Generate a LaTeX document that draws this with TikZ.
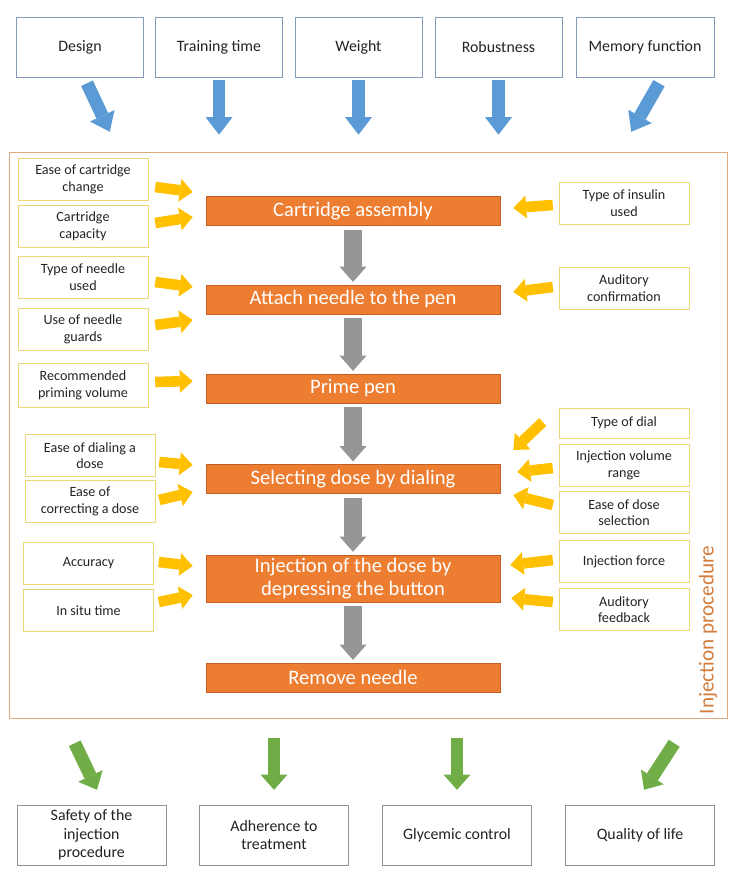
\documentclass[tikz,border=0pt]{standalone}
\usepackage{fontspec}
\setmainfont{Carlito}
\usetikzlibrary{arrows.meta}

\definecolor{topline}{RGB}{130,155,185}
\definecolor{endline}{RGB}{140,150,140}
\definecolor{factorline}{RGB}{235,215,120}
\definecolor{frameline}{RGB}{225,170,130}
\definecolor{steporange}{RGB}{237,125,49}
\definecolor{stepline}{RGB}{195,95,35}
\definecolor{proctext}{RGB}{210,125,60}
\definecolor{boxtext}{RGB}{35,35,35}
\definecolor{pblue}{RGB}{91,155,213}
\definecolor{pyellow}{RGB}{255,192,0}
\definecolor{pgray}{RGB}{150,150,150}
\definecolor{pgreen}{RGB}{112,173,71}

\begin{document}
\begin{tikzpicture}[x=0.85pt, y=-0.85pt,
  topbox/.style={draw=topline, text=boxtext, minimum width=108pt, minimum height=51pt,
    font=\fontsize{13.5}{16}\selectfont, align=center, inner sep=1pt},
  endbox/.style={draw=endline, text=boxtext, minimum width=126.5pt, minimum height=51pt,
    font=\fontsize{13.5}{15.7}\selectfont, align=center, inner sep=1pt},
  factor/.style={draw=factorline, text=boxtext, minimum width=110.5pt, minimum height=35.7pt,
    font=\fontsize{12}{14.2}\selectfont, align=center, inner sep=1pt},
  stepbox/.style={draw=stepline, fill=steporange, text=white, minimum width=250pt,
    minimum height=24.5pt, font=\fontsize{17.5}{20}\selectfont, align=center, inner sep=1pt},
  bluearrow/.style={draw=pblue, line width=11pt, -{Triangle[width=23pt,length=15pt,line width=0pt]}},
  yarrow/.style={draw=pyellow, line width=9pt, -{Triangle[width=19.5pt,length=11pt,line width=0pt]}},
  grayarrow/.style={draw=pgray, line width=15pt, shorten <=3.4pt, shorten >=2.5pt,
    -{Triangle[width=23pt,length=13pt,line width=0pt]}},
  greenarrow/.style={draw=pgreen, line width=11pt, -{Triangle[width=23pt,length=13pt,line width=0pt]}}]

  \useasboundingbox (0,0) rectangle (734,879);

  % factors on top
  \node[topbox] (design) at (80,47) {Design};
  \node[topbox] (train) at (219,47) {Training time};
  \node[topbox] (weight) at (358.5,47) {Weight};
  \node[topbox] (robust) at (498.5,47) {Robustness};
  \node[topbox, minimum width=117.3pt] (memory) at (645,47) {Memory function};

  % injection procedure frame
  \node[draw=frameline, minimum width=610.3pt, minimum height=481.1pt] (proc) at (368,435) {};
  \node[rotate=90, text=proctext, font=\fontsize{18}{20}\selectfont] (proclabel) at (708,630) {Injection procedure};

  % steps
  \node[stepbox] (cart) at (353,211) {Cartridge assembly};
  \node[stepbox] (attach) at (353,299.5) {Attach needle to the pen};
  \node[stepbox] (prime) at (353,388.5) {Prime pen};
  \node[stepbox] (select) at (353,479) {Selecting dose by dialing};
  \node[stepbox, minimum height=40pt] (inject) at (353,578.5) {Injection of the dose by\\depressing the button};
  \node[stepbox] (remove) at (353,677.5) {Remove needle};

  \draw[grayarrow] (cart) -- (attach);
  \draw[grayarrow] (attach) -- (prime);
  \draw[grayarrow] (prime) -- (select);
  \draw[grayarrow] (select) -- (inject);
  \draw[grayarrow] (inject) -- (remove);

  % left factors
  \node[factor] (ecc) at (83,179) {Ease of cartridge\\change};
  \node[factor] (ccap) at (83,226) {Cartridge\\capacity};
  \node[factor] (tneedle) at (83,277.5) {Type of needle\\used};
  \node[factor] (guards) at (83,329.5) {Use of needle\\guards};
  \node[factor, minimum height=37.4pt] (primevol) at (83,385) {Recommended\\priming volume};
  \node[factor] (dialing) at (90,455.5) {Ease of dialing a\\dose};
  \node[factor] (correct) at (90,501.5) {Ease of\\correcting a dose};
  \node[factor] (accuracy) at (88.5,563.5) {Accuracy};
  \node[factor] (insitu) at (88.5,610.5) {In situ time};

  % right factors
  \node[factor] (insulin) at (624,203) {Type of insulin\\used};
  \node[factor] (audconf) at (624,288) {Auditory\\confirmation};
  \node[factor, minimum height=25.5pt] (dial) at (624,423) {Type of dial};
  \node[factor] (volrange) at (624,465) {Injection volume\\range};
  \node[factor] (dosesel) at (624,512.5) {Ease of dose\\selection};
  \node[factor] (force) at (624,561.5) {Injection force};
  \node[factor] (audfeed) at (624,609.5) {Auditory\\feedback};

  % yellow arrows, left
  \draw[yarrow] ([shift={(7,8)}]ecc.east) -- ([shift={(-13,-19)}]cart.west);
  \draw[yarrow] ([shift={(7,-3)}]ccap.east) -- ([shift={(-13,6)}]cart.west);
  \draw[yarrow] ([shift={(7,4.5)}]tneedle.east) -- ([shift={(-13,-12.5)}]attach.west);
  \draw[yarrow] ([shift={(7,-4.5)}]guards.east) -- ([shift={(-13,20.5)}]attach.west);
  \draw[yarrow] ([shift={(7,-3)}]primevol.east) -- ([shift={(-13,-7.5)}]prime.west);
  \draw[yarrow] ([shift={(4,6.5)}]dialing.east) -- ([shift={(-13,-14)}]select.west);
  \draw[yarrow] ([shift={(4,-1.5)}]correct.east) -- ([shift={(-13,13)}]select.west);
  \draw[yarrow] ([shift={(5,-1.5)}]accuracy.east) -- ([shift={(-13,-12.5)}]inject.west);
  \draw[yarrow] ([shift={(5,-8.5)}]insitu.east) -- ([shift={(-13,16.5)}]inject.west);

  % yellow arrows, right
  \draw[yarrow] ([shift={(-6,2)}]insulin.west) -- ([shift={(13,-3)}]cart.east);
  \draw[yarrow] ([shift={(-6,-1)}]audconf.west) -- ([shift={(13,-7.5)}]attach.east);
  \draw[yarrow] ([shift={(-16,-1)}]dial.west) -- ([shift={(13,-29)}]select.east);
  \draw[yarrow] ([shift={(-6,3)}]volrange.west) -- ([shift={(17,-7)}]select.east);
  \draw[yarrow] ([shift={(-6,-7.5)}]dosesel.west) -- ([shift={(13,16)}]select.east);
  \draw[yarrow] ([shift={(-6,-1.5)}]force.west) -- ([shift={(10,-13.5)}]inject.east);
  \draw[yarrow] ([shift={(-6,-7.5)}]audfeed.west) -- ([shift={(11,19.5)}]inject.east);

  % blue arrows into the frame
  \draw[bluearrow] ([shift={(7,6)}]design.south) -- ([shift={(101,-20)}]proc.north west);
  \draw[bluearrow, shorten <=2.5pt, shorten >=14.5pt] (train.south) -- (train.south |- proc.north);
  \draw[bluearrow, shorten <=2.5pt, shorten >=14.5pt] (weight.south) -- (weight.south |- proc.north);
  \draw[bluearrow, shorten <=2.5pt, shorten >=14.5pt] (robust.south) -- (robust.south |- proc.north);
  \draw[bluearrow] ([shift={(14,6)}]memory.south) -- ([shift={(-96,-20)}]proc.north east);

  % outcomes
  \node[endbox] (safety) at (91.5,835) {Safety of the\\injection\\procedure};
  \node[endbox] (adhere) at (274,835) {Adherence to\\treatment};
  \node[endbox] (glyc) at (457,835) {Glycemic control};
  \node[endbox] (quality) at (640,835) {Quality of life};

  \draw[greenarrow] ([shift={(66,25)}]proc.south west) -- ([shift={(5.5,-15)}]safety.north);
  \draw[greenarrow, shorten <=17pt, shorten >=12.7pt] (adhere.north |- proc.south) -- (adhere.north);
  \draw[greenarrow, shorten <=17pt, shorten >=12.7pt] (glyc.north |- proc.south) -- (glyc.north);
  \draw[greenarrow] ([shift={(-53,25)}]proc.south east) -- ([shift={(4,-15)}]quality.north);
\end{tikzpicture}
\end{document}
